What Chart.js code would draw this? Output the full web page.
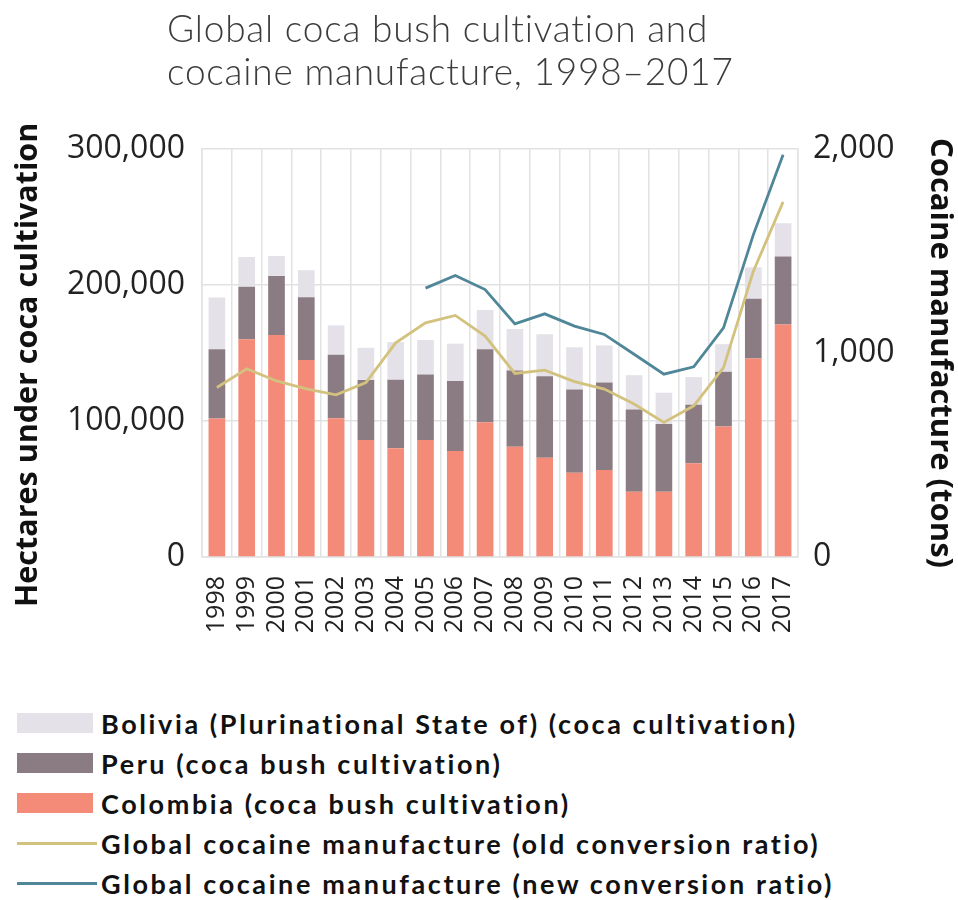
<!DOCTYPE html>
<html>
<head>
<meta charset="utf-8">
<script src="https://cdn.jsdelivr.net/npm/chart.js@4"></script>
<style>
  html, body { margin: 0; padding: 0; background: #fff; }
  #wrap { position: relative; width: 958px; height: 900px; background: #fff; overflow: hidden; }
  #title { position: absolute; left: 167px; top: 6px; font-family: "Lato", "Open Sans", sans-serif; font-weight: 300;
           font-size: 37px; line-height: 43px; letter-spacing: 0.8px; color: #3c3c3c; white-space: nowrap;
           font-variant-ligatures: none; }
  #chartBox { position: absolute; left: 0; top: 0; width: 958px; height: 680px; }
  #legend { position: absolute; left: 17px; top: 703px; font-family: "Lato", "Open Sans", sans-serif; font-weight: 700;
            font-size: 27px; letter-spacing: 2.6px; color: #111; font-variant-ligatures: none; }
  .li { display: flex; align-items: center; height: 40px; white-space: nowrap; }
  .sw { width: 76px; height: 20px; margin-right: 8px; flex: none; }
  .ln { width: 80px; height: 3px; margin-right: 4px; flex: none; }
</style>
</head>
<body>
<div id="wrap">
  <div id="chartBox"><canvas id="c" width="958" height="680"></canvas></div>
  <div id="title">Global coca bush cultivation and<br>cocaine manufacture, 1998–2017</div>
  <div id="legend"></div>
</div>
<script>
const years = ["1998","1999","2000","2001","2002","2003","2004","2005","2006","2007",
               "2008","2009","2010","2011","2012","2013","2014","2015","2016","2017"];
// hectares
const colombia = [101800,160100,163300,144800,102000,86000,80000,86000,78000,99000,
                  81000,73000,62000,64000,48000,48000,69000,96000,146000,171000];
const peru     = [51000,38700,43400,46200,46700,44200,50300,48200,51400,53700,
                  56100,59900,61200,64400,60400,49800,42900,40300,43900,49900];
const bolivia  = [38000,21800,14600,19900,21600,23600,27700,25400,27500,28900,
                  30500,30900,31000,27200,25300,23000,20400,20200,23100,24500];
// tons
const cocaineOld = [831,923,863,824,795,855,1050,1148,1184,1083,
                    900,916,860,823,750,660,741,928,1400,1741];
const cocaineNew = [null,null,null,null,null,null,null,1318,1380,1311,
                    1143,1192,1132,1091,994,896,932,1123,1579,1972];
const leftTicks = [0,100000,200000,300000];
const rightTicks = [0,1000,2000];

const labelBolivia = "Bolivia (Plurinational State of) (coca cultivation)";
const labelPeru = "Peru (coca bush cultivation)";
const labelColombia = "Colombia (coca bush cultivation)";
const labelOld = "Global cocaine manufacture (old conversion ratio)";
const labelNew = "Global cocaine manufacture (new conversion ratio)";

const cBol = "#e4e2e8", cPeru = "#8b7b82", cCol = "#f48a78", cOld = "#d3c27e", cNew = "#4f8799";
const gridColor = "#e2e2e2";

const datasets = [
  { type: "bar", label: labelColombia, data: colombia, backgroundColor: cCol, stack: "s", yAxisID: "y", order: 2 },
  { type: "bar", label: labelPeru, data: peru, backgroundColor: cPeru, stack: "s", yAxisID: "y", order: 2 },
  { type: "bar", label: labelBolivia, data: bolivia, backgroundColor: cBol, stack: "s", yAxisID: "y", order: 2 },
  { type: "line", label: labelOld, data: cocaineOld, borderColor: cOld, borderWidth: 2.8, pointRadius: 0,
    tension: 0, fill: false, yAxisID: "y1", order: 1 },
  { type: "line", label: labelNew, data: cocaineNew, borderColor: cNew, borderWidth: 2.8, pointRadius: 0,
    tension: 0, fill: false, yAxisID: "y1", order: 0, spanGaps: false }
];

const fmt = v => Number(v).toLocaleString("en-US");

const chart = new Chart(document.getElementById("c"), {
  data: { labels: years, datasets },
  options: {
    responsive: false,
    animation: false,
    layout: { padding: { top: 149, left: 0, right: 0, bottom: 0 } },
    datasets: { bar: { categoryPercentage: 1.0, barPercentage: 0.56 } },
    plugins: { legend: { display: false }, tooltip: { enabled: false }, title: { display: false } },
    scales: {
      x: {
        stacked: true,
        grid: { color: gridColor, offset: true, drawTicks: false, lineWidth: 1.5 },
        border: { color: gridColor, width: 1.5 },
        ticks: { minRotation: 90, maxRotation: 90, autoSkip: false, padding: 19,
                 color: "#222", font: { family: "Open Sans", size: 25 } },
        afterFit: s => { s.height = 123; }
      },
      y: {
        position: "left", stacked: true, min: 0, max: 300000,
        afterBuildTicks: s => { s.ticks = leftTicks.map(v => ({ value: v })); },
        grid: { color: gridColor, drawTicks: false, lineWidth: 1.5 },
        border: { color: gridColor, width: 1.5 },
        ticks: { padding: 17, color: "#222", font: { family: "Open Sans", size: 32 }, callback: v => fmt(v) },
        title: { display: true, text: "Hectares under coca cultivation   ", color: "#111",
                 font: { family: "Open Sans", size: 30.5, weight: "bold" }, padding: { top: 10, bottom: 0 } },
        afterFit: s => { s.width = 202; }
      },
      y1: {
        position: "right", min: 0, max: 2000,
        afterBuildTicks: s => { s.ticks = rightTicks.map(v => ({ value: v })); },
        grid: { drawOnChartArea: false, drawTicks: false },
        border: { color: gridColor, width: 1.5 },
        ticks: { padding: 15, color: "#222", font: { family: "Open Sans", size: 32 }, callback: v => fmt(v) },
        title: { display: true, text: "Cocaine manufacture (tons)", color: "#111",
                 font: { family: "Open Sans", size: 31, weight: "bold" }, padding: { top: 0, bottom: 0 } },
        afterFit: s => { s.width = 160; }
      }
    }
  }
});

// HTML legend built from the chart's datasets, in the reference order
const legendOrder = [labelBolivia, labelPeru, labelColombia, labelOld, labelNew];
const legendEl = document.getElementById("legend");
legendOrder.forEach(lbl => {
  const ds = chart.data.datasets.find(d => d.label === lbl);
  const row = document.createElement("div");
  row.className = "li";
  const sw = document.createElement("span");
  if (ds.type === "bar") { sw.className = "sw"; sw.style.background = ds.backgroundColor; }
  else { sw.className = "ln"; sw.style.background = ds.borderColor; }
  const tx = document.createElement("span");
  tx.textContent = ds.label;
  row.appendChild(sw); row.appendChild(tx);
  legendEl.appendChild(row);
});
</script>
</body>
</html>
